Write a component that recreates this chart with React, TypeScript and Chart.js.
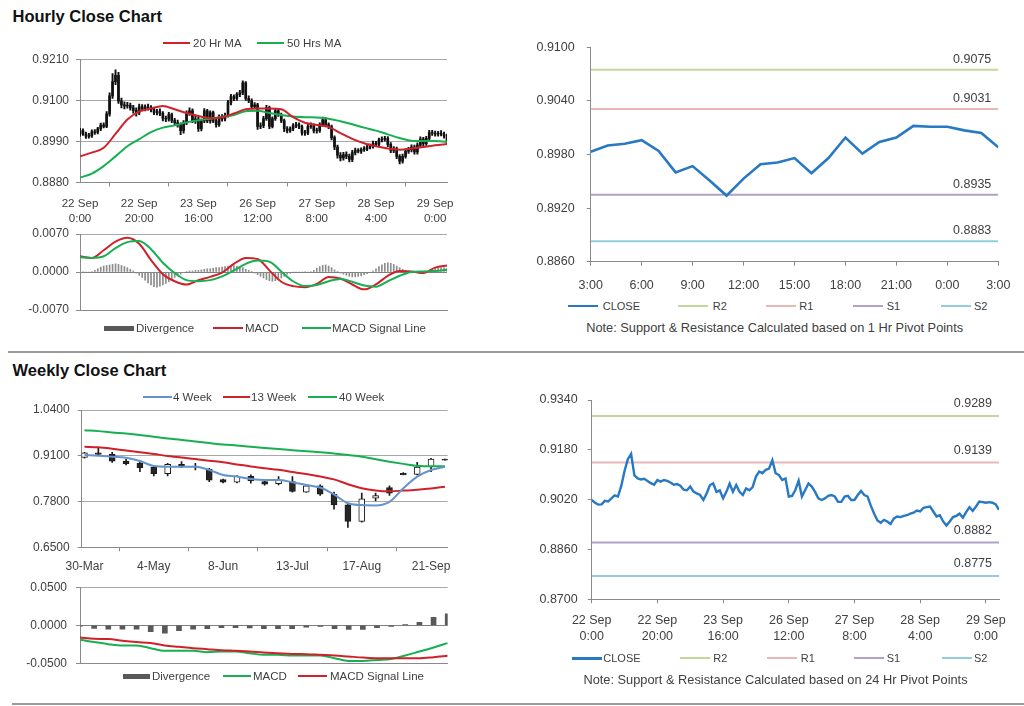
import React, { useEffect, useRef } from 'react';
import { Chart, registerables } from 'chart.js';
Chart.register(...registerables);

// ---------------- DATA ----------------
// Hourly (22 Sep 0:00 .. 29 Sep), one value per hour
const hourlyTickIdx = [0, 20, 40, 60, 80, 100, 120];
const hourlyTickLabels = [
  ['22 Sep', '0:00'], ['22 Sep', '20:00'], ['23 Sep', '16:00'], ['26 Sep', '12:00'],
  ['27 Sep', '8:00'], ['28 Sep', '4:00'], ['29 Sep', '0:00'],
];
const hourlyClose = [
  0.9019, 0.9010, 0.9004, 0.9005, 0.9016, 0.9014, 0.9024, 0.9034, 0.9030, 0.9064,
  0.9112, 0.9150, 0.9167, 0.9098, 0.9088, 0.9085, 0.9087, 0.9080, 0.9073, 0.9068,
  0.9083, 0.9078, 0.9083, 0.9080, 0.9075, 0.9068, 0.9070, 0.9065, 0.9052, 0.9050,
  0.9062, 0.9046, 0.9040, 0.9035, 0.9019, 0.9040, 0.9067, 0.9072, 0.9045, 0.9050,
  0.9024, 0.9045, 0.9072, 0.9045, 0.9067, 0.9045, 0.9035, 0.9056, 0.9050, 0.9060,
  0.9094, 0.9110, 0.9105, 0.9116, 0.9120, 0.9147, 0.9105, 0.9099, 0.9083, 0.9088,
  0.9030, 0.9032, 0.9051, 0.9081, 0.9030, 0.9051, 0.9072, 0.9062, 0.9045, 0.9024,
  0.9019, 0.9024, 0.9032, 0.9035, 0.9030, 0.9013, 0.9013, 0.9030, 0.9032, 0.9019,
  0.9019, 0.9035, 0.9048, 0.9035, 0.9030, 0.9000, 0.8975, 0.8953, 0.8946, 0.8955,
  0.8950, 0.8942, 0.8960, 0.8966, 0.8964, 0.8968, 0.8970, 0.8975, 0.8978, 0.8985,
  0.8982, 0.8994, 0.8996, 0.8998, 0.8982, 0.8966, 0.8970, 0.8950, 0.8937, 0.8950,
  0.8964, 0.8968, 0.8975, 0.8962, 0.8980, 0.8996, 0.8984, 0.8998, 0.9014, 0.9012,
  0.9010, 0.9012, 0.9010, 0.9005, 0.8987,
];
const hourlyOpen = [
  0.9010, 0.9019, 0.9010, 0.9004, 0.9005, 0.9016, 0.9014, 0.9024, 0.9034, 0.9030,
  0.9064, 0.9112, 0.9150, 0.9167, 0.9098, 0.9088, 0.9085, 0.9087, 0.9080, 0.9073,
  0.9068, 0.9083, 0.9078, 0.9083, 0.9080, 0.9075, 0.9068, 0.9070, 0.9065, 0.9052,
  0.9050, 0.9062, 0.9046, 0.9040, 0.9035, 0.9019, 0.9040, 0.9067, 0.9072, 0.9045,
  0.9050, 0.9024, 0.9045, 0.9072, 0.9045, 0.9067, 0.9045, 0.9035, 0.9056, 0.9050,
  0.9060, 0.9094, 0.9110, 0.9105, 0.9116, 0.9120, 0.9147, 0.9105, 0.9099, 0.9083,
  0.9088, 0.9030, 0.9032, 0.9051, 0.9081, 0.9030, 0.9051, 0.9072, 0.9062, 0.9045,
  0.9024, 0.9019, 0.9024, 0.9032, 0.9035, 0.9030, 0.9013, 0.9013, 0.9030, 0.9032,
  0.9019, 0.9019, 0.9035, 0.9048, 0.9035, 0.9030, 0.9000, 0.8975, 0.8953, 0.8946,
  0.8955, 0.8950, 0.8942, 0.8960, 0.8966, 0.8964, 0.8968, 0.8970, 0.8975, 0.8978,
  0.8985, 0.8982, 0.8994, 0.8996, 0.8998, 0.8982, 0.8966, 0.8970, 0.8950, 0.8937,
  0.8950, 0.8964, 0.8968, 0.8975, 0.8962, 0.8980, 0.8996, 0.8984, 0.8998, 0.9014,
  0.9012, 0.9010, 0.9012, 0.9010, 0.9005,
];
const hourlyHigh = [
  0.9025, 0.9024, 0.9015, 0.9012, 0.9021, 0.9022, 0.9028, 0.9039, 0.9040, 0.9070,
  0.9120, 0.9172, 0.9182, 0.9175, 0.9106, 0.9096, 0.9095, 0.9093, 0.9087, 0.9080,
  0.9090, 0.9089, 0.9088, 0.9090, 0.9086, 0.9080, 0.9076, 0.9077, 0.9070, 0.9058,
  0.9068, 0.9066, 0.9052, 0.9047, 0.9040, 0.9046, 0.9072, 0.9080, 0.9077, 0.9057,
  0.9055, 0.9050, 0.9078, 0.9076, 0.9072, 0.9071, 0.9050, 0.9061, 0.9062, 0.9066,
  0.9100, 0.9116, 0.9115, 0.9121, 0.9127, 0.9152, 0.9150, 0.9112, 0.9104, 0.9094,
  0.9092, 0.9040, 0.9057, 0.9087, 0.9085, 0.9056, 0.9078, 0.9077, 0.9066, 0.9050,
  0.9030, 0.9029, 0.9038, 0.9041, 0.9040, 0.9034, 0.9020, 0.9036, 0.9040, 0.9037,
  0.9026, 0.9040, 0.9055, 0.9053, 0.9040, 0.9034, 0.9005, 0.8980, 0.8960, 0.8961,
  0.8962, 0.8956, 0.8966, 0.8972, 0.8971, 0.8973, 0.8976, 0.8980, 0.8983, 0.8991,
  0.8990, 0.8999, 0.9002, 0.9004, 0.9003, 0.8987, 0.8976, 0.8975, 0.8955, 0.8956,
  0.8970, 0.8974, 0.8981, 0.8980, 0.8986, 0.9002, 0.9001, 0.9004, 0.9020, 0.9020,
  0.9018, 0.9017, 0.9019, 0.9015, 0.9010,
];
const hourlyLow = [
  0.9004, 0.9006, 0.8998, 0.8999, 0.9001, 0.9009, 0.9010, 0.9019, 0.9026, 0.9027,
  0.9058, 0.9105, 0.9142, 0.9092, 0.9080, 0.9077, 0.9079, 0.9074, 0.9066, 0.9058,
  0.9062, 0.9072, 0.9072, 0.9074, 0.9069, 0.9062, 0.9061, 0.9059, 0.9045, 0.9043,
  0.9044, 0.9040, 0.9034, 0.9028, 0.9008, 0.9012, 0.9035, 0.9060, 0.9040, 0.9038,
  0.9017, 0.9018, 0.9040, 0.9040, 0.9039, 0.9040, 0.9028, 0.9030, 0.9044, 0.9045,
  0.9055, 0.9088, 0.9099, 0.9100, 0.9110, 0.9115, 0.9100, 0.9094, 0.9077, 0.9078,
  0.9022, 0.9024, 0.9027, 0.9046, 0.9024, 0.9026, 0.9046, 0.9057, 0.9040, 0.9016,
  0.9013, 0.9014, 0.9019, 0.9027, 0.9024, 0.9007, 0.9006, 0.9008, 0.9025, 0.9013,
  0.9012, 0.9014, 0.9030, 0.9029, 0.9024, 0.8994, 0.8968, 0.8945, 0.8938, 0.8940,
  0.8944, 0.8935, 0.8936, 0.8954, 0.8959, 0.8958, 0.8963, 0.8965, 0.8970, 0.8972,
  0.8976, 0.8977, 0.8989, 0.8991, 0.8976, 0.8960, 0.8960, 0.8944, 0.8930, 0.8932,
  0.8945, 0.8958, 0.8962, 0.8956, 0.8956, 0.8974, 0.8978, 0.8979, 0.8992, 0.9006,
  0.9004, 0.9004, 0.9005, 0.8999, 0.8982,
];
// moving averages & MACD sampled every 4 hours (hour 0, 4, ... 124)
const SAMPLE_STEP = 4;
const hourlyMA20 = [
  0.8950, 0.8960, 0.8973, 0.9010, 0.9049, 0.9070, 0.9078, 0.9085, 0.9076, 0.9066, 0.9058,
  0.9052, 0.9055, 0.9065, 0.9076, 0.9078, 0.9078, 0.9076, 0.9055, 0.9040, 0.9034, 0.9029,
  0.9012, 0.8997, 0.8985, 0.8977, 0.8971, 0.8968, 0.8971, 0.8975, 0.8980, 0.8983,
];
const hourlyMA50 = [
  0.8893, 0.8904, 0.8924, 0.8950, 0.8977, 0.8996, 0.9015, 0.9027, 0.9033, 0.9041, 0.9047,
  0.9051, 0.9056, 0.9061, 0.9071, 0.9072, 0.9066, 0.9061, 0.9057, 0.9055, 0.9054, 0.9051,
  0.9044, 0.9036, 0.9027, 0.9019, 0.9009, 0.8999, 0.8992, 0.8991, 0.8991, 0.8989,
];
const hourlyMACD = [
  0.0029, 0.0026, 0.0040, 0.0056, 0.0063, 0.0052, 0.0022, -0.0004, -0.0017, -0.0023, -0.0015,
  -0.0009, -0.0001, 0.0015, 0.0026, 0.0024, 0.0003, -0.0018, -0.0026, -0.0028, -0.0022, -0.0009,
  -0.0012, -0.0023, -0.0032, -0.0023, -0.0007, 0.0002, 0.0001, -0.0002, 0.0008, 0.0012,
];
const hourlySignal = [
  0.0027, 0.0026, 0.0029, 0.0044, 0.0055, 0.0057, 0.0042, 0.0017, -0.0002, -0.0015, -0.0017,
  -0.0015, -0.0008, 0.0003, 0.0015, 0.0021, 0.0019, 0.0001, -0.0017, -0.0026, -0.0024, -0.0017,
  -0.0013, -0.0018, -0.0025, -0.0027, -0.0017, -0.0007, 0.0000, 0.0001, 0.0002, 0.0004,
];
const hourlyDivergence = [
  0.0002, 0.0001, 0.0000, 0.0000, 0.0001,
  0.0003, 0.0006, 0.0009, 0.0011, 0.0012, 0.0013, 0.0014, 0.0015, 0.0014, 0.0012, 0.0010, 0.0008, 0.0005,
  0.0002, -0.0002, -0.0006,
  -0.0010, -0.0015, -0.0020, -0.0024, -0.0027, -0.0028, -0.0026, -0.0024, -0.0021, -0.0018, -0.0014, -0.0010, -0.0007, -0.0004,
  -0.0001, 0.0001, 0.0002, 0.0002,
  0.0003, 0.0003, 0.0004, 0.0005, 0.0006, 0.0006, 0.0007, 0.0008, 0.0008, 0.0009, 0.0010, 0.0011, 0.0012, 0.0012, 0.0011, 0.0010, 0.0008, 0.0005, 0.0003,
  0.0001, -0.0002,
  -0.0005, -0.0008, -0.0011, -0.0014, -0.0016, -0.0017, -0.0016, -0.0014, -0.0011, -0.0008, -0.0004,
  -0.0002, 0.0000, 0.0000, 0.0000, 0.0000, 0.0001, 0.0000, 0.0001,
  0.0003, 0.0007, 0.0010, 0.0012, 0.0013, 0.0011, 0.0008, 0.0004, 0.0001,
  -0.0002, -0.0004, -0.0006, -0.0008, -0.0009, -0.0009, -0.0008, -0.0007, -0.0005, -0.0003, -0.0001,
  0.0002, 0.0006, 0.0010, 0.0013, 0.0016, 0.0017, 0.0016, 0.0014, 0.0011, 0.0008, 0.0005, 0.0003,
  0.0002, 0.0001, 0.0000, -0.0001, -0.0001, 0.0000, 0.0001, 0.0002,
  0.0004, 0.0006, 0.0007, 0.0008, 0.0008, 0.0007,
];

// Last 24 hours close (3:00 .. 3:00)
const dayTickIdx = [0, 3, 6, 9, 12, 15, 18, 21, 24];
const dayTickLabels = ['3:00', '6:00', '9:00', '12:00', '15:00', '18:00', '21:00', '0:00', '3:00'];
const dayClose = [
  0.8983, 0.8990, 0.8992, 0.8996, 0.8984, 0.8960, 0.8967, 0.8951, 0.8934, 0.8953, 0.8969, 0.8971,
  0.8976, 0.8959, 0.8976, 0.8999, 0.8981, 0.8994, 0.8999, 0.9012, 0.9011, 0.9011, 0.9007, 0.9004, 0.8988,
];
const hourPivotNames = ['R2', 'R1', 'S1', 'S2'];
const hourPivots = [0.9075, 0.9031, 0.8935, 0.8883];
const dayPivots = [0.9289, 0.9139, 0.8882, 0.8775];

// Weekly (30-Mar .. 28-Sep)
const weekTickIdx = [0, 5, 10, 15, 20, 25];
const weekTickLabels = ['30-Mar', '4-May', '8-Jun', '13-Jul', '17-Aug', '21-Sep'];
const weeklyOpen = [0.9050, 0.9180, 0.9139, 0.8950, 0.8885, 0.8772, 0.8592, 0.8856, 0.8780, 0.8715, 0.8423, 0.8348, 0.8517, 0.8367, 0.8310, 0.8367, 0.8065, 0.8244, 0.8008, 0.7707, 0.7236, 0.7896, 0.8197, 0.8602, 0.8573, 0.8781, 0.9007];
const weeklyClose = [0.9180, 0.9140, 0.8950, 0.8875, 0.8762, 0.8592, 0.8856, 0.8781, 0.8809, 0.8404, 0.8348, 0.8517, 0.8385, 0.8291, 0.8404, 0.8084, 0.8244, 0.8008, 0.7707, 0.7236, 0.7877, 0.7971, 0.8037, 0.8564, 0.8781, 0.9007, 0.8978];
const weeklyHigh = [0.9200, 0.9308, 0.9195, 0.8998, 0.8932, 0.8809, 0.8885, 0.8932, 0.8885, 0.8743, 0.8440, 0.8536, 0.8555, 0.8385, 0.8508, 0.8508, 0.8272, 0.8272, 0.8065, 0.7745, 0.8037, 0.8037, 0.8244, 0.8620, 0.8913, 0.9026, 0.9007];
const weeklyLow = [0.9030, 0.9120, 0.8913, 0.8837, 0.8649, 0.8527, 0.8527, 0.8762, 0.8696, 0.8366, 0.8330, 0.8329, 0.8320, 0.8263, 0.8272, 0.8065, 0.8056, 0.7971, 0.7585, 0.7066, 0.7217, 0.7820, 0.7971, 0.8555, 0.8555, 0.8649, 0.8978];
const week4MA = [0.9120, 0.9101, 0.9073, 0.9045, 0.8950, 0.8809, 0.8790, 0.8790, 0.8790, 0.8696, 0.8555, 0.8508, 0.8442, 0.8414, 0.8414, 0.8348, 0.8272, 0.8197, 0.8000, 0.7750, 0.7700, 0.7690, 0.7790, 0.8178, 0.8508, 0.8696, 0.8790];
const week13MA = [0.9355, 0.9340, 0.9300, 0.9250, 0.9200, 0.9150, 0.9095, 0.9050, 0.9010, 0.8960, 0.8915, 0.8855, 0.8795, 0.8745, 0.8700, 0.8640, 0.8580, 0.8510, 0.8430, 0.8290, 0.8180, 0.8115, 0.8090, 0.8110, 0.8135, 0.8170, 0.8220];
const week40MA = [0.9827, 0.9800, 0.9761, 0.9730, 0.9690, 0.9640, 0.9591, 0.9550, 0.9505, 0.9462, 0.9421, 0.9390, 0.9355, 0.9322, 0.9290, 0.9260, 0.9230, 0.9200, 0.9167, 0.9120, 0.9073, 0.9000, 0.8932, 0.8870, 0.8815, 0.8800, 0.8800];
const weeklyMACD = [-0.0190, -0.0221, -0.0248, -0.0265, -0.0265, -0.0301, -0.0336, -0.0336, -0.0336, -0.0354, -0.0345, -0.0345, -0.0367, -0.0389, -0.0389, -0.0398, -0.0398, -0.0398, -0.0433, -0.0469, -0.0469, -0.0455, -0.0442, -0.0398, -0.0345, -0.0292, -0.0234];
const weeklySignal = [-0.0159, -0.0177, -0.0181, -0.0203, -0.0221, -0.0234, -0.0265, -0.0283, -0.0301, -0.0314, -0.0327, -0.0336, -0.0345, -0.0358, -0.0367, -0.0376, -0.0380, -0.0389, -0.0398, -0.0411, -0.0424, -0.0433, -0.0433, -0.0433, -0.0433, -0.0420, -0.0402];
const weeklyDivergence = [-0.0010, -0.0040, -0.0050, -0.0050, -0.0050, -0.0085, -0.0105, -0.0070, -0.0050, -0.0045, -0.0030, -0.0030, -0.0035, -0.0045, -0.0045, -0.0045, -0.0025, -0.0015, -0.0045, -0.0055, -0.0055, -0.0030, -0.0015, 0.0010, 0.0040, 0.0105, 0.0150];

const hourlyYTicks = [0.888, 0.899, 0.91, 0.921];
const hourlyMacdTicks = [-0.007, 0, 0.007];
const dayYTicks = [0.886, 0.892, 0.898, 0.904, 0.91];
const weeklyYTicks = [0.65, 0.78, 0.91, 1.04];
const weeklyMacdTicks = [-0.05, 0, 0.05];
const hourCloseYTicks = [0.87, 0.886, 0.902, 0.918, 0.934];

// ---------------- STYLE ----------------
const FONT = "'Liberation Sans', Arial, Helvetica, sans-serif";
const TXT = '#404040';
const AXIS = '#8a8a8a';
const GRID = '#a8a8a8';
const RED = '#d0212a';
const GREEN = '#17af52';
const BLUE_MA = '#6593cb';
const CLOSE_BLUE = '#2679c2';
const PIVOT_COLORS = ['#c3d69b', '#e6b9b8', '#b3a2c7', '#93cddd'];
const DIV_DARK = '#595959';

type Box = { l: number; t: number; w: number; h: number };
type Plot = { l: number; t: number; r: number; b: number };
type Geo = { yW: number; xH: number; pad: { left: number; top: number; right: number; bottom: number } };

function geometry(box: Box, plot: Plot): Geo {
  return {
    yW: plot.l - box.l,
    xH: box.t + box.h - plot.b,
    pad: { left: 0, top: plot.t - box.t, right: box.l + box.w - plot.r, bottom: 0 },
  };
}

const fixWidth = (w: number) => (s: any) => {
  s.width = w; s.paddingTop = 0; s.paddingBottom = 0; s.paddingLeft = 0; s.paddingRight = 0;
};
const fixHeight = (h: number) => (s: any) => {
  s.height = h; s.paddingTop = 0; s.paddingBottom = 0; s.paddingLeft = 0; s.paddingRight = 0;
};
const tickAt = (vals: number[]) => (s: any) => {
  s.ticks = vals.map((v) => ({ value: v }));
};

function yAxis(g: Geo, ticks: number[], size: number, padding: number, gridOn: boolean, zeroDark = false) {
  return {
    type: 'linear', position: 'left', min: ticks[0], max: ticks[ticks.length - 1],
    afterBuildTicks: tickAt(ticks),
    afterFit: fixWidth(g.yW),
    grid: {
      display: true, drawOnChartArea: gridOn, drawTicks: true, tickLength: 4, tickColor: AXIS,
      color: (c: any) => (zeroDark && c.tick && Math.abs(c.tick.value) < 1e-9 ? '#808080' : GRID),
      lineWidth: 1,
    },
    border: { display: true, color: AXIS, width: 1 },
    ticks: { font: { family: FONT, size }, color: TXT, padding, callback: (v: any) => Number(v).toFixed(4) },
  };
}

function xAxis(g: Geo, min: number, max: number, ticks: number[], labels: any[], size: number, padding: number, show: boolean) {
  return {
    type: 'linear', position: 'bottom', min, max, offset: false,
    afterBuildTicks: tickAt(ticks),
    afterFit: fixHeight(g.xH),
    grid: { display: show, drawOnChartArea: false, drawTicks: show, tickLength: 4, tickColor: AXIS },
    border: { display: true, color: AXIS, width: 1 },
    ticks: {
      display: show, autoSkip: false, maxRotation: 0, minRotation: 0,
      font: { family: FONT, size, lineHeight: 1.25 }, color: TXT, padding,
      callback: (_v: any, i: number) => labels[i],
    },
  };
}

function baseOptions(g: Geo, scales: any) {
  return {
    responsive: true, maintainAspectRatio: false, animation: false, events: [],
    layout: { padding: g.pad },
    plugins: { legend: { display: false }, tooltip: { enabled: false } },
    scales,
  };
}

const line = (data: any[], color: string, width: number, order: number, tension = 0) => ({
  type: 'line', data, borderColor: color, backgroundColor: color, borderWidth: width,
  pointRadius: 0, tension, fill: false, order, cubicInterpolationMode: tension ? 'monotone' : 'default',
});
const series = (arr: number[], step = 1) => arr.map((y, i) => ({ x: i * step, y }));

function pivotLabels(values: number[], offset: number) {
  return {
    id: 'pivotLabels',
    afterDatasetsDraw(chart: any) {
      const { ctx, chartArea, scales } = chart;
      ctx.save();
      ctx.font = `12.5px ${FONT}`;
      ctx.fillStyle = TXT;
      ctx.textAlign = 'right';
      ctx.textBaseline = 'middle';
      values.forEach((v) => ctx.fillText(v.toFixed(4), chartArea.right - 7, scales.y.getPixelForValue(v) - offset));
      ctx.restore();
    },
  };
}

function ChartPanel({ box, plot, build }: { box: Box; plot: Plot; build: (g: Geo) => any }) {
  const ref = useRef<HTMLCanvasElement | null>(null);
  useEffect(() => {
    if (!ref.current) return;
    const chart = new Chart(ref.current, build(geometry(box, plot)));
    return () => chart.destroy();
  }, []);
  return (
    <div style={{ position: 'absolute', left: box.l, top: box.t, width: box.w, height: box.h }}>
      <canvas ref={ref} />
    </div>
  );
}

// ---------------- CHART BUILDERS ----------------
const buildHourlyCandles = (g: Geo) => ({
  type: 'bar',
  data: {
    datasets: [
      line(series(hourlyMA20, SAMPLE_STEP), RED, 2, 0, 0.4),
      line(series(hourlyMA50, SAMPLE_STEP), GREEN, 2, 0, 0.4),
      { type: 'bar', data: hourlyOpen.map((o, i) => ({ x: i, y: [o, hourlyClose[i]] })), backgroundColor: '#111', barThickness: 2, grouped: false, order: 1 },
      { type: 'bar', data: hourlyHigh.map((h, i) => ({ x: i, y: [hourlyLow[i], h] })), backgroundColor: '#111', barThickness: 1.3, grouped: false, order: 2 },
    ],
  },
  options: baseOptions(g, {
    x: xAxis(g, 0, 124, hourlyTickIdx, hourlyTickLabels, 11.6, 10.5, true),
    y: yAxis(g, hourlyYTicks, 12, 7, true),
  }),
});

const buildHourlyMacd = (g: Geo) => ({
  type: 'bar',
  data: {
    datasets: [
      line(series(hourlySignal, SAMPLE_STEP), GREEN, 2, 0, 0.4),
      line(series(hourlyMACD, SAMPLE_STEP), RED, 2, 1, 0.4),
      { type: 'bar', data: series(hourlyDivergence), backgroundColor: '#8c8c8c', barThickness: 1, grouped: false, order: 2 },
    ],
  },
  options: baseOptions(g, {
    x: xAxis(g, 0, 124, [], [], 11, 0, false),
    y: yAxis(g, hourlyMacdTicks, 12, 7, true, true),
  }),
});

const pivotSets = (values: number[], x1: number) =>
  values.map((v, k) => ({
    type: 'line', label: hourPivotNames[k], data: [{ x: 0, y: v }, { x: x1, y: v }],
    borderColor: PIVOT_COLORS[k], borderWidth: 2, pointRadius: 0, order: 1,
  }));

const buildDayClose = (g: Geo) => ({
  type: 'line',
  data: {
    datasets: [
      line(series(dayClose), CLOSE_BLUE, 2.6, 0),
      ...pivotSets(hourPivots, 24),
    ],
  },
  options: baseOptions(g, {
    x: xAxis(g, 0, 24, dayTickIdx, dayTickLabels, 12.5, 12, true),
    y: yAxis(g, dayYTicks, 12.5, 12, false),
  }),
  plugins: [pivotLabels(hourPivots, 10.5)],
});

const buildWeeklyCandles = (g: Geo) => ({
  type: 'bar',
  data: {
    datasets: [
      line(series(week4MA), BLUE_MA, 2, 0, 0.3),
      line(series(week13MA), RED, 2, 0, 0.3),
      line(series(week40MA), GREEN, 2, 0, 0.3),
      {
        type: 'bar', data: weeklyOpen.map((o, i) => ({ x: i, y: [o, weeklyClose[i]] })),
        backgroundColor: weeklyOpen.map((o, i) => (weeklyClose[i] >= o ? '#ffffff' : '#262626')),
        borderColor: '#1a1a1a', borderWidth: 1, borderSkipped: false, barThickness: 6, grouped: false, order: 1,
      },
      { type: 'bar', data: weeklyHigh.map((h, i) => ({ x: i, y: [weeklyLow[i], h] })), backgroundColor: '#1a1a1a', barThickness: 1, grouped: false, order: 2 },
    ],
  },
  options: baseOptions(g, {
    x: xAxis(g, -0.2, 26.2, weekTickIdx, weekTickLabels, 12, 8, true),
    y: yAxis(g, weeklyYTicks, 12, 8, true),
  }),
});

const buildWeeklyMacd = (g: Geo) => ({
  type: 'bar',
  data: {
    datasets: [
      line(series(weeklySignal), RED, 2, 0, 0.3),
      line(series(weeklyMACD), GREEN, 2, 0, 0.3),
      { type: 'bar', data: series(weeklyDivergence), backgroundColor: DIV_DARK, barThickness: 5, grouped: false, order: 2 },
    ],
  },
  options: baseOptions(g, {
    x: xAxis(g, 0, 26, [], [], 11, 0, false),
    y: yAxis(g, weeklyMacdTicks, 12, 9, true, true),
  }),
});

const buildHourClose = (g: Geo) => ({
  type: 'line',
  data: {
    datasets: [
      line(series(hourlyClose), CLOSE_BLUE, 2.4, 0),
      ...pivotSets(dayPivots, 124),
    ],
  },
  options: baseOptions(g, {
    x: xAxis(g, 0, 124, hourlyTickIdx, hourlyTickLabels, 12.5, 9.5, true),
    y: yAxis(g, hourCloseYTicks, 12.5, 10, false),
  }),
  plugins: [pivotLabels(dayPivots, 12)],
});

// ---------------- HTML LEGENDS ----------------
type LegendItem = { x: number; w: number; color: string; h: number; tx: number; text: string };
function Legend({ y, items, size }: { y: number; items: LegendItem[]; size: number }) {
  return (
    <>
      {items.map((it, k) => (
        <React.Fragment key={k}>
          <div style={{ position: 'absolute', left: it.x, top: y - it.h / 2, width: it.w, height: it.h, background: it.color }} />
          <div style={{ position: 'absolute', left: it.tx, top: y - 7, lineHeight: '14px', fontSize: size, fontFamily: FONT, color: TXT, whiteSpace: 'nowrap' }}>{it.text}</div>
        </React.Fragment>
      ))}
    </>
  );
}

function Note({ cx, y, text }: { cx: number; y: number; text: string }) {
  return (
    <div style={{ position: 'absolute', left: cx - 300, width: 600, top: y - 8, lineHeight: '16px', textAlign: 'center', fontSize: 12.8, fontFamily: FONT, color: TXT, whiteSpace: 'nowrap' }}>{text}</div>
  );
}

function Title({ y, text }: { y: number; text: string }) {
  return (
    <div style={{ position: 'absolute', left: 12.5, top: y, lineHeight: '16.5px', fontSize: 16.5, fontWeight: 'bold', fontFamily: FONT, color: '#111' }}>{text}</div>
  );
}

const pivotLegend = (xs: number[][]): LegendItem[] => [
  { x: xs[0][0], w: 30, color: CLOSE_BLUE, h: 2.5, tx: xs[0][1], text: 'CLOSE' },
  ...hourPivotNames.map((n, k) => ({ x: xs[k + 1][0], w: 30, color: PIVOT_COLORS[k], h: 2, tx: xs[k + 1][1], text: n })),
];

export default function App() {
  return (
    <div style={{ position: 'absolute', left: 0, top: 0, width: 1024, height: 706, background: '#ffffff', overflow: 'hidden' }}>
      <Title y={7.7} text="Hourly Close Chart" />
      <Title y={361.7} text="Weekly Close Chart" />

      <ChartPanel box={{ l: 10, t: 48, w: 450, h: 182 }} plot={{ l: 80, t: 59.3, r: 447, b: 182.5 }} build={buildHourlyCandles} />
      <ChartPanel box={{ l: 10, t: 222, w: 450, h: 96 }} plot={{ l: 80, t: 234, r: 447, b: 310 }} build={buildHourlyMacd} />
      <ChartPanel box={{ l: 520, t: 36, w: 504, h: 262 }} plot={{ l: 590.7, t: 47.3, r: 998.3, b: 261.7 }} build={buildDayClose} />
      <ChartPanel box={{ l: 10, t: 400, w: 450, h: 178 }} plot={{ l: 81.7, t: 410, r: 447.7, b: 547.3 }} build={buildWeeklyCandles} />
      <ChartPanel box={{ l: 10, t: 578, w: 450, h: 95 }} plot={{ l: 80, t: 587.3, r: 447.7, b: 663.3 }} build={buildWeeklyMacd} />
      <ChartPanel box={{ l: 520, t: 388, w: 504, h: 260 }} plot={{ l: 591.7, t: 400, r: 999, b: 599.3 }} build={buildHourClose} />

      <Legend y={42.7} size={11.5} items={[
        { x: 163, w: 27, color: RED, h: 2, tx: 193, text: '20 Hr MA' },
        { x: 257, w: 27, color: GREEN, h: 2, tx: 287, text: '50 Hrs MA' },
      ]} />
      <Legend y={328} size={11.5} items={[
        { x: 104, w: 30, color: DIV_DARK, h: 5, tx: 136, text: 'Divergence' },
        { x: 213, w: 30, color: RED, h: 2, tx: 245, text: 'MACD' },
        { x: 302, w: 29, color: GREEN, h: 2, tx: 332, text: 'MACD Signal Line' },
      ]} />
      <Legend y={306} size={11} items={pivotLegend([[568, 602.7], [678, 712.7], [766, 799.3], [853, 886.7], [941, 974]])} />
      <Note cx={774.7} y={327.7} text="Note: Support & Resistance Calculated based on 1 Hr Pivot Points" />

      <Legend y={397} size={11.5} items={[
        { x: 143, w: 29, color: BLUE_MA, h: 2, tx: 173, text: '4 Week' },
        { x: 223, w: 27, color: RED, h: 2, tx: 251, text: '13 Week' },
        { x: 308, w: 29, color: GREEN, h: 2, tx: 339, text: '40 Week' },
      ]} />
      <Legend y={676} size={11.5} items={[
        { x: 122.7, w: 27, color: DIV_DARK, h: 5, tx: 152, text: 'Divergence' },
        { x: 222.7, w: 28, color: GREEN, h: 2, tx: 253, text: 'MACD' },
        { x: 298, w: 29, color: RED, h: 2, tx: 330, text: 'MACD Signal Line' },
      ]} />
      <Legend y={658.3} size={11} items={pivotLegend([[571.7, 603.3], [680, 713.3], [767.3, 800.7], [854.3, 886.7], [941.7, 974]])} />
      <Note cx={775.5} y={680} text="Note: Support & Resistance Calculated based on 24 Hr Pivot Points" />

      <div style={{ position: 'absolute', left: 8, top: 351, width: 1016, height: 1.5, background: '#9a9a9a' }} />
      <div style={{ position: 'absolute', left: 12, top: 703, width: 1012, height: 1.5, background: '#9a9a9a' }} />
    </div>
  );
}
